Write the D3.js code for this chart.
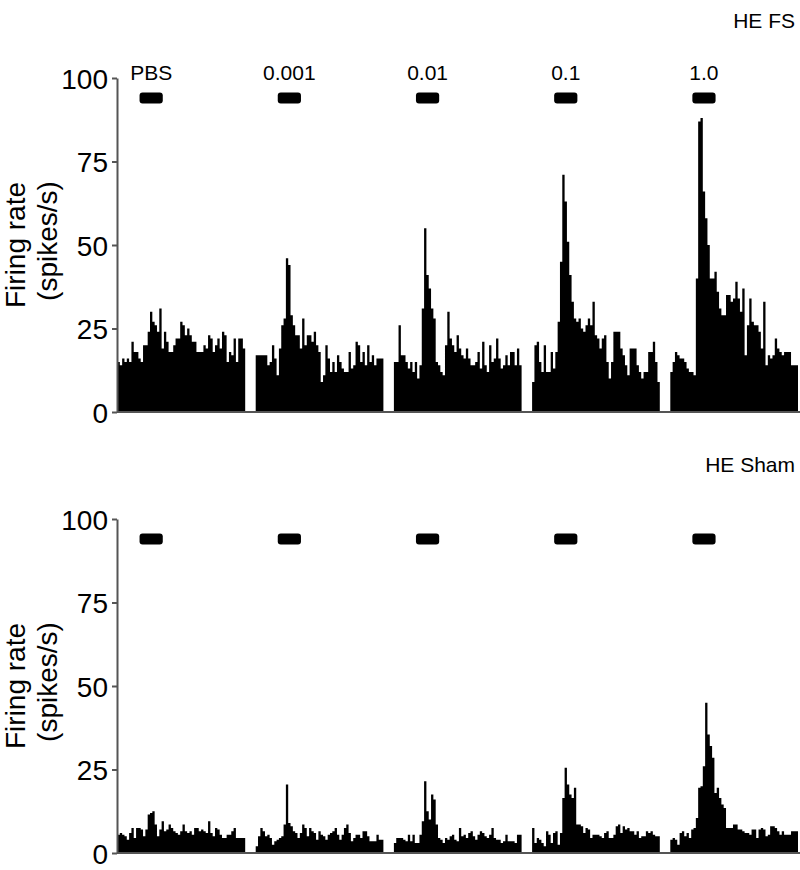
<!DOCTYPE html>
<html>
<head>
<meta charset="utf-8">
<script src="https://cdnjs.cloudflare.com/ajax/libs/d3/7.8.5/d3.min.js"></script>
<style>
  body { margin: 0; background: #fff; }
  text { font-family: "Liberation Sans", Arial, Helvetica, sans-serif; fill: #000; }
</style>
</head>
<body>
<div id="chart"></div>
<script>
// one recording segment per dose
var doses = ["PBS", "0.001", "0.01", "0.1", "1.0"];
var yTicks = [0, 25, 50, 75, 100];
var binSec = 10;            // histogram bin (s)
var drugOn = [95, 195];     // application window, s from segment start
var drugLevel = 94;         // where the application bar is drawn (spikes/s)

// HE FS firing rate (spikes/s), 55 bins per segment
var fsPBS  = [15,14,16,15,16,15,21,18,18,16,15,20,20,24,30,27,26,24,31,19,24,21,18,18,20,22,22,27,26,23,25,23,21,21,18,18,18,20,19,23,22,18,20,22,19,24,23,15,18,17,22,15,22,22,19];
var fs0001 = [17,17,17,17,17,14,15,20,16,11,19,26,28,46,44,29,26,23,23,19,28,20,23,23,21,24,20,18,9,11,20,16,12,15,12,17,15,13,12,12,18,13,14,21,20,15,18,14,20,15,17,14,16,16,16];
var fs001  = [15,15,26,17,17,15,13,15,12,15,10,14,31,55,41,37,31,28,15,14,12,11,20,30,22,20,18,23,19,17,16,19,16,14,14,15,18,13,21,14,12,20,15,16,22,16,13,14,17,14,18,18,14,19,14];
var fs01   = [9,20,21,15,12,20,12,12,18,13,18,27,45,71,63,51,41,33,28,27,28,25,24,26,28,26,33,23,22,19,22,23,15,10,15,24,24,24,19,17,14,11,19,19,19,14,12,10,12,12,18,18,21,15,9];
var fs1    = [12,15,18,17,16,16,15,13,12,12,11,40,87,88,66,58,50,40,40,42,36,31,29,29,35,35,33,34,39,34,30,37,17,26,34,27,26,26,24,19,33,14,17,16,17,22,19,18,17,18,18,18,14,14,14];

// HE Sham firing rate (spikes/s)
var shPBS  = [5.5,6,5.5,5,4,6,7.5,4.5,7.5,7.5,7,5,7,11.5,12,12.5,8.5,5,7,9.5,6.5,7,8.5,7.5,6.5,6,5.5,6.5,8.5,6.5,6,6.5,5.5,7.5,7.5,6.5,7,6.5,6,9.5,6,5,7.5,7,5.5,4.5,4.5,5.5,5.5,6.5,7.5,4.5,4.5,4.5,4.5];
var sh0001 = [2,5,7.5,6.5,5,5.5,4.5,2.5,3.5,4,4.5,5,8.5,20.5,9,8,6.5,6,4.5,6,8.5,7.5,5,7.5,6.5,6,4,6.5,5.5,5,4,5.5,6,6.5,7.5,5.5,4,5.5,7.5,8.5,6,3.5,4.5,5.5,5.5,4.5,6.5,6.5,5,3.5,3.5,3.5,5.5,4,4];
var sh001  = [3,4.5,4.5,4.5,4,3.5,5.5,3.5,5.5,3,3,5.5,9.5,21.5,12.5,10,17.5,16,8.5,4.5,4,3,4.5,4,5,5.5,4,3.5,7.5,5,5.5,4.5,6,6.5,5,4,5.5,6.5,6,5,4.5,5.5,7.5,4.5,4,4,3,3.5,5.5,3.5,3.5,3.5,3,5.5,5.5];
var sh01   = [7.5,3,4.5,4,3,2,6.5,5.5,3,6,6.5,2.5,6,16.5,25.5,20.5,17.5,16.5,19.5,8.5,8.5,8,6,7.5,7,4.5,5.5,5.5,5.5,5,4.5,6,6.5,4.5,4.5,5.5,8,8.5,6,8,7,7.5,6.5,6.5,5.5,6.5,4.5,5,5,6.5,6,6.5,5.5,5,5];
var sh1    = [4,4.5,4,2.5,6,6.5,5,6,4.5,7,7.5,10.5,19.5,20,26,45,35.5,32,28.5,18,19.5,16.5,14.5,13.5,7.5,7.5,7.5,8.5,8.5,7,7,6.5,6,6,5.5,7,7,4.5,7,7.5,7,5,5.5,8,8,7.5,6.5,5.5,6.5,5.5,5.5,5.5,6.5,6.5,6.5];

var fsRates   = [fsPBS, fs0001, fs001, fs01, fs1];
var shamRates = [shPBS, sh0001, sh001, sh01, sh1];

var width  = 800;
var height = 870;

var svg = d3.select("#chart").append("svg")
    .attr("width", width)
    .attr("height", height);

var x = d3.scaleBand()
    .domain(doses)
    .range([117.5, 798])
    .paddingInner(0.076)
    .paddingOuter(0);

function drawPanel(rates, title, top, bottom, titleY, withDoses) {
    var y = d3.scaleLinear().domain([0, 100]).range([bottom, top]);
    var g = svg.append("g");

    // histograms, one per dose
    rates.forEach(function(vals, k) {
        var x0 = x(doses[k]);
        var xs = d3.scaleLinear()
            .domain([0, vals.length * binSec])
            .range([x0, x0 + x.bandwidth()]);

        var area = d3.area()
            .x(function(d, i) { return xs(i * binSec); })
            .y0(y(0))
            .y1(function(d) { return y(d); })
            .curve(d3.curveStepAfter);

        g.append("path")
            .datum(vals.concat([vals[vals.length - 1]]))
            .attr("fill", "#000")
            .attr("d", area);

        // drug application bar
        g.append("rect")
            .attr("x", xs(drugOn[0]))
            .attr("width", xs(drugOn[1]) - xs(drugOn[0]))
            .attr("y", y(drugLevel) - 5.5)
            .attr("height", 11)
            .attr("rx", 3)
            .attr("fill", "#000");

        if (withDoses) {
            g.append("text")
                .attr("x", (xs(drugOn[0]) + xs(drugOn[1])) / 2)
                .attr("y", top + 2)
                .attr("text-anchor", "middle")
                .style("font-size", "21px")
                .text(doses[k]);
        }
    });

    // baseline
    g.append("line")
        .attr("x1", 117).attr("x2", 800)
        .attr("y1", y(0)).attr("y2", y(0))
        .attr("stroke", "#555")
        .attr("stroke-width", 2);

    var yAxis = d3.axisLeft(y)
        .tickValues(yTicks)
        .tickSizeInner(5)
        .tickSizeOuter(0)
        .tickPadding(4);

    var ax = g.append("g")
        .attr("transform", "translate(117,0)")
        .call(yAxis);
    ax.select(".domain").attr("stroke", "#555").attr("stroke-width", 2);
    ax.selectAll(".tick line").attr("stroke", "#555").attr("stroke-width", 2);
    ax.selectAll(".tick text")
        .attr("dy", "0.36em")
        .style("font-size", "28px")
        .style("font-family", "'Liberation Sans', Arial, sans-serif")
        .attr("fill", "#000");

    // axis title, two lines
    var mid = (top + bottom) / 2;
    g.append("text")
        .attr("transform", "translate(25," + mid + ") rotate(-90)")
        .attr("text-anchor", "middle")
        .style("font-size", "28px")
        .text("Firing rate");
    g.append("text")
        .attr("transform", "translate(57," + (mid - 4) + ") rotate(-90)")
        .attr("text-anchor", "middle")
        .style("font-size", "28px")
        .text("(spikes/s)");

    g.append("text")
        .attr("x", 795)
        .attr("y", titleY)
        .attr("text-anchor", "end")
        .style("font-size", "21px")
        .text(title);
}

drawPanel(fsRates, "HE FS", 78, 412, 28, true);
drawPanel(shamRates, "HE Sham", 519, 853, 472, false);
</script>
</body>
</html>
